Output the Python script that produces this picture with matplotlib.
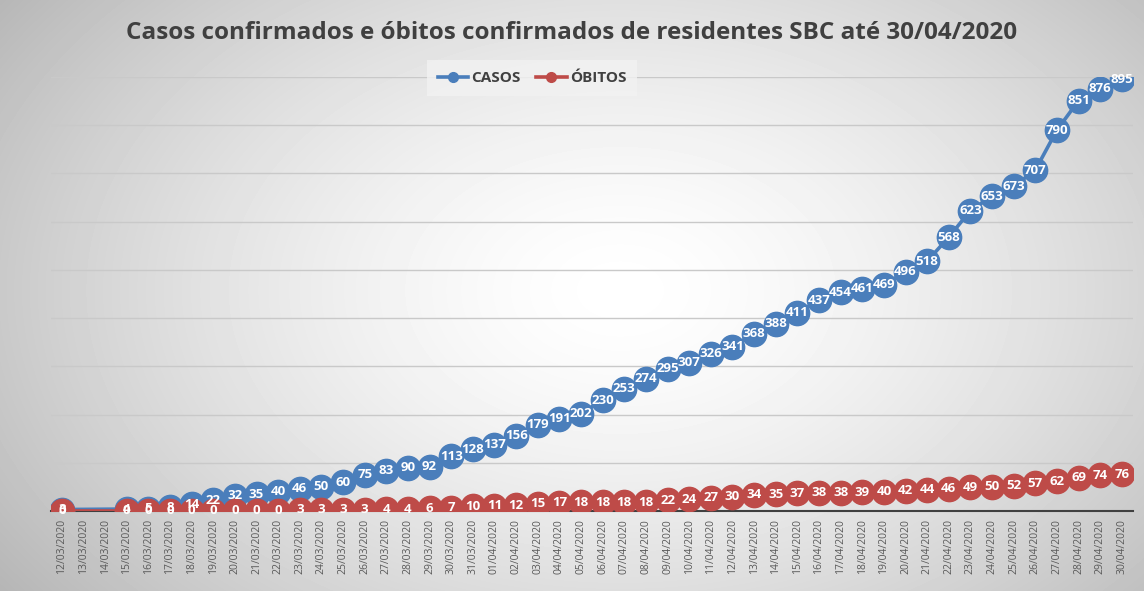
import numpy as np
import matplotlib.pyplot as plt
from matplotlib.lines import Line2D

# dates 12/03/2020 .. 30/04/2020
datas = ([f"{d:02d}/03/2020" for d in range(12, 32)] +
         [f"{d:02d}/04/2020" for d in range(1, 31)])

casos = [3, np.nan, np.nan, 4, 5, 8, 14, 22, 32, 35,
         40, 46, 50, 60, 75, 83, 90, 92, 113, 128,
         137, 156, 179, 191, 202, 230, 253, 274, 295, 307,
         326, 341, 368, 388, 411, 437, 454, 461, 469, 496,
         518, 568, 623, 653, 673, 707, 790, 851, 876, 895]

obitos = [0, np.nan, np.nan, 0, 0, 0, 0, 0, 0, 0,
          0, 3, 3, 3, 3, 4, 4, 6, 7, 10,
          11, 12, 15, 17, 18, 18, 18, 18, 22, 24,
          27, 30, 34, 35, 37, 38, 38, 39, 40, 42,
          44, 46, 49, 50, 52, 57, 62, 69, 74, 76]

AZUL = "#4a7ebb"
VERMELHO = "#be4b48"
TEXTO = "#404040"

plt.rcParams["font.family"] = ["Open Sans", "DejaVu Sans"]

fig = plt.figure(figsize=(11.44, 5.91), dpi=100)

# radial grey-to-white background
bg = fig.add_axes([0, 0, 1, 1], zorder=-10)
yy, xx = np.mgrid[0:591, 0:1144]
r = np.sqrt(((xx - 620) / 600.0) ** 2 + ((yy - 290) / 400.0) ** 2)
val = 1.0 - 0.2 * np.clip(r, 0, 1.3) ** 1.5
bg.imshow(val, cmap="gray", vmin=0, vmax=1, aspect="auto",
          extent=[0, 1, 0, 1], origin="upper")
bg.set_axis_off()

ax = fig.add_axes([0.0446, 0.1354, 0.9455, 0.7343])
ax.set_facecolor("none")

x = np.arange(len(datas))


def draw_series(vals, color, z):
    v = np.array(vals, dtype=float)
    ok = ~np.isnan(v)
    ax.plot(x[ok], v[ok], color=color, lw=2.6, marker="o", ms=17.5,
            mec=color, mfc=color, zorder=z)
    for xi, vi in zip(x[ok], v[ok]):
        ax.text(xi, vi, f"{int(vi)}", ha="center", va="center",
                color="white", fontsize=9.5, fontweight="bold",
                zorder=20)


draw_series(casos, AZUL, 3)
draw_series(obitos, VERMELHO, 4)

ax.set_xlim(-0.5, len(datas) - 0.5)
ax.set_ylim(0, 900)
ax.set_yticks(np.arange(0, 901, 100))
ax.yaxis.grid(True, color="#c9c9c9", lw=1)
ax.set_axisbelow(True)
ax.tick_params(axis="y", left=False, labelleft=False)
ax.set_xticks(x)
ax.set_xticklabels(datas, rotation=90, fontsize=7.5, color="#595959")
ax.tick_params(axis="x", length=0, pad=6)
for s in ["left", "right", "top"]:
    ax.spines[s].set_visible(False)
ax.spines["bottom"].set_color("#404040")
ax.spines["bottom"].set_linewidth(1.5)
ax.spines["bottom"].set_zorder(2)

fig.text(0.5, 0.945, "Casos confirmados e óbitos confirmados de residentes SBC até 30/04/2020",
         ha="center", va="center", fontsize=17.5, fontweight="bold", color=TEXTO)

handles = [Line2D([], [], color=AZUL, lw=2.6, marker="o", ms=7),
           Line2D([], [], color=VERMELHO, lw=2.6, marker="o", ms=7)]
leg = fig.legend(handles, ["CASOS", "ÓBITOS"], loc="center",
                 bbox_to_anchor=(0.465, 0.868), ncol=2, frameon=True,
                 handlelength=2.0, handletextpad=0.2, columnspacing=1.0,
                 prop={"size": 11, "weight": "bold"}, borderpad=0.5)
leg.get_frame().set_facecolor("#f2f2f2")
leg.get_frame().set_edgecolor("none")
leg.get_frame().set_boxstyle("square", pad=0.2)
for t in leg.get_texts():
    t.set_color(TEXTO)

fig.savefig("out.png", dpi=100)
